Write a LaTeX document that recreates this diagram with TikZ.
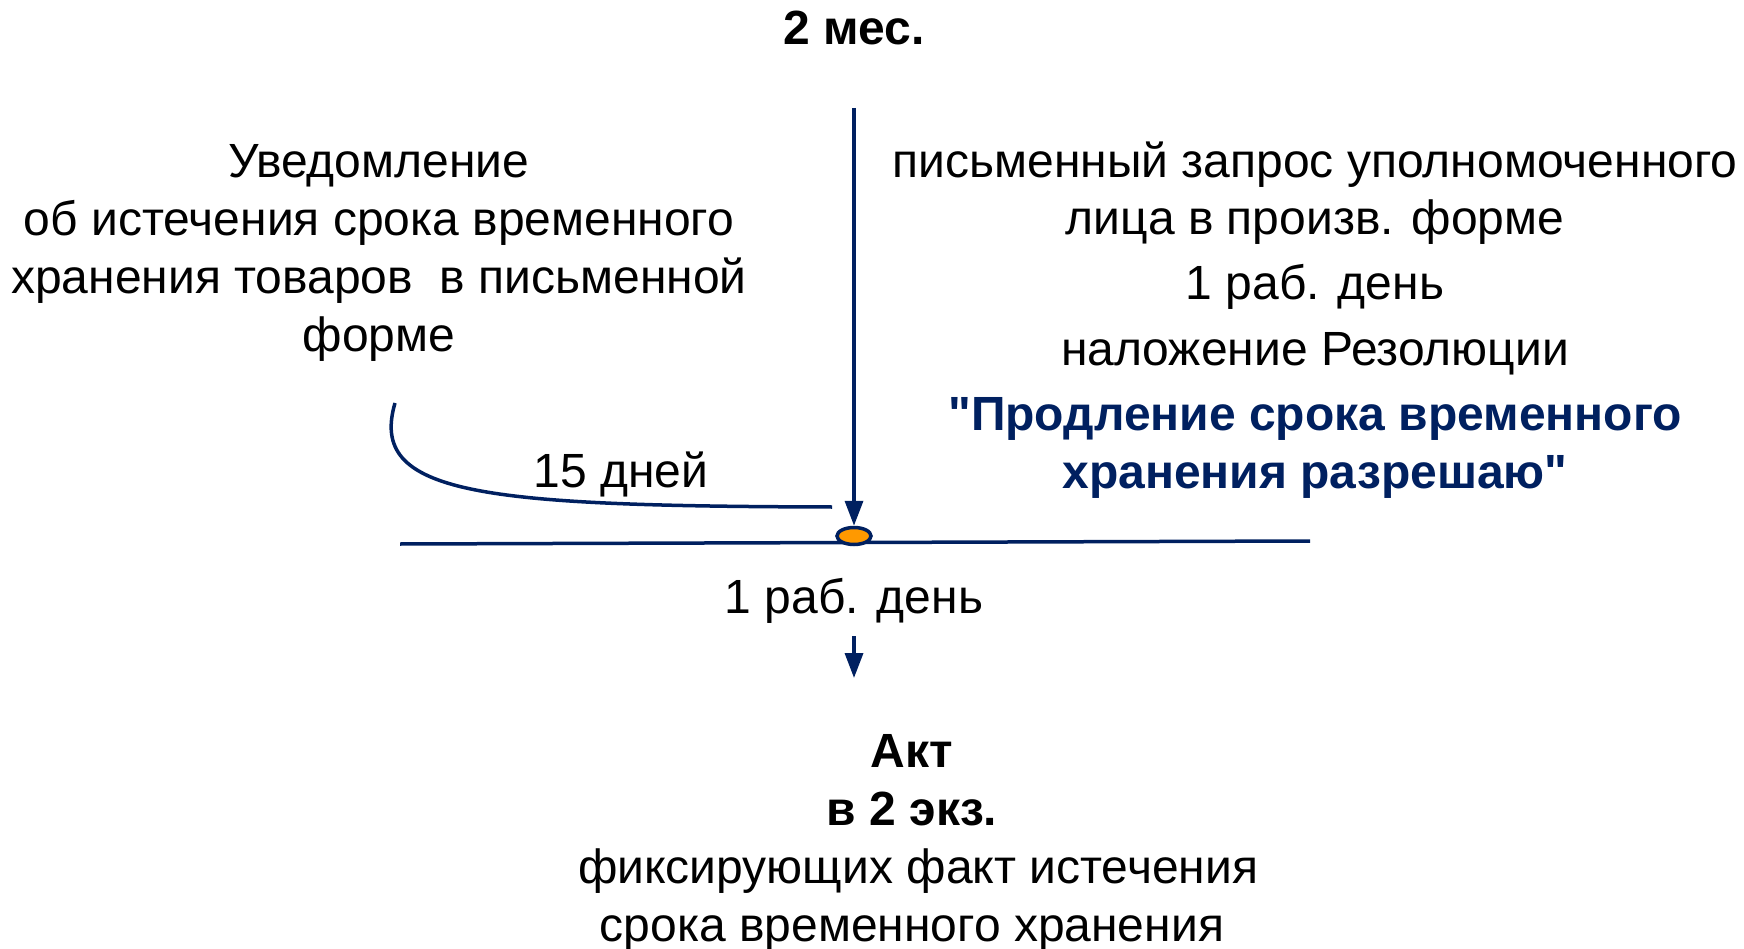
\documentclass[tikz,border=0pt]{standalone}
\usepackage{fontspec}
\setmainfont{Liberation Sans}[Ligatures=TeXOff]
\usetikzlibrary{arrows.meta, positioning, shapes.geometric}
\definecolor{navy}{HTML}{002060}
\definecolor{dotorange}{HTML}{FF9900}

\begin{document}
\begin{tikzpicture}[x=1pt, y=-1pt,
  txt/.style={anchor=base, inner sep=0pt, font=\fontsize{48}{58}\selectfont},
  btxt/.style={txt, font=\fontsize{48}{58}\selectfont\bfseries},
  bluetxt/.style={btxt, text=navy},
  line/.style={draw=navy, line width=3.5pt},
  arr/.style={line, -{Triangle[length=25pt, width=18pt]}}]
  \useasboundingbox (0,0) rectangle (1744,949);

  \node[btxt] (months) at (854,45) {2 мес.};

  % notice (left)
  \node[txt] (notice1) at (379,178) {Уведомление};
  \node[txt] (notice2) at (379,236) {об истечения срока временного};
  \node[txt] (notice3) at (379,294) {хранения товаров~ в письменной};
  \node[txt] (notice4) at (379,351) {форме};

  % request (right)
  \node[txt] (req1) at (1315,178) {письменный запрос уполномоченного};
  \node[txt] (req2) at (1315,235) {лица в произв. форме};
  \node[txt] (req3) at (1315,300) {1 раб. день};
  \node[txt] (req4) at (1315,365) {наложение Резолюции};
  \node[bluetxt] (res1) at (1315,430) {"Продление срока временного};
  \node[bluetxt] (res2) at (1315,488) {хранения разрешаю"};

  \node[txt] (days) at (621,487) {15 дней};

  % time axis
  \coordinate (axisl) at (400,544);
  \coordinate (axisr) at (1310,541);
  \draw[line] (axisl) -- (axisr);
  \node[ellipse, draw=navy, line width=3.5pt, fill=dotorange, minimum width=34pt, minimum height=17pt, inner sep=0pt] (dot) at (854,536) {};

  \coordinate (top) at (854,108);
  \draw[arr] (top) -- (dot);

  \coordinate (cstart) at (395,403);
  \coordinate (cend) at (832,507);
  \draw[line] (cstart) .. controls (368,495) and (480,506) .. (cend);

  \node[txt] (workday) at (854,613) {1 раб. день};
  \coordinate (down1) at (854,636);
  \coordinate (down2) at (854,678);
  \draw[arr] (down1) -- (down2);

  % act
  \node[btxt] (act1) at (912,767) {Акт};
  \node[btxt] (act2) at (912,825) {в 2 экз.};
  \node[txt] (act3) at (918,883) {фиксирующих факт истечения};
  \node[txt] (act4) at (912,941) {срока временного хранения};
\end{tikzpicture}
\end{document}
